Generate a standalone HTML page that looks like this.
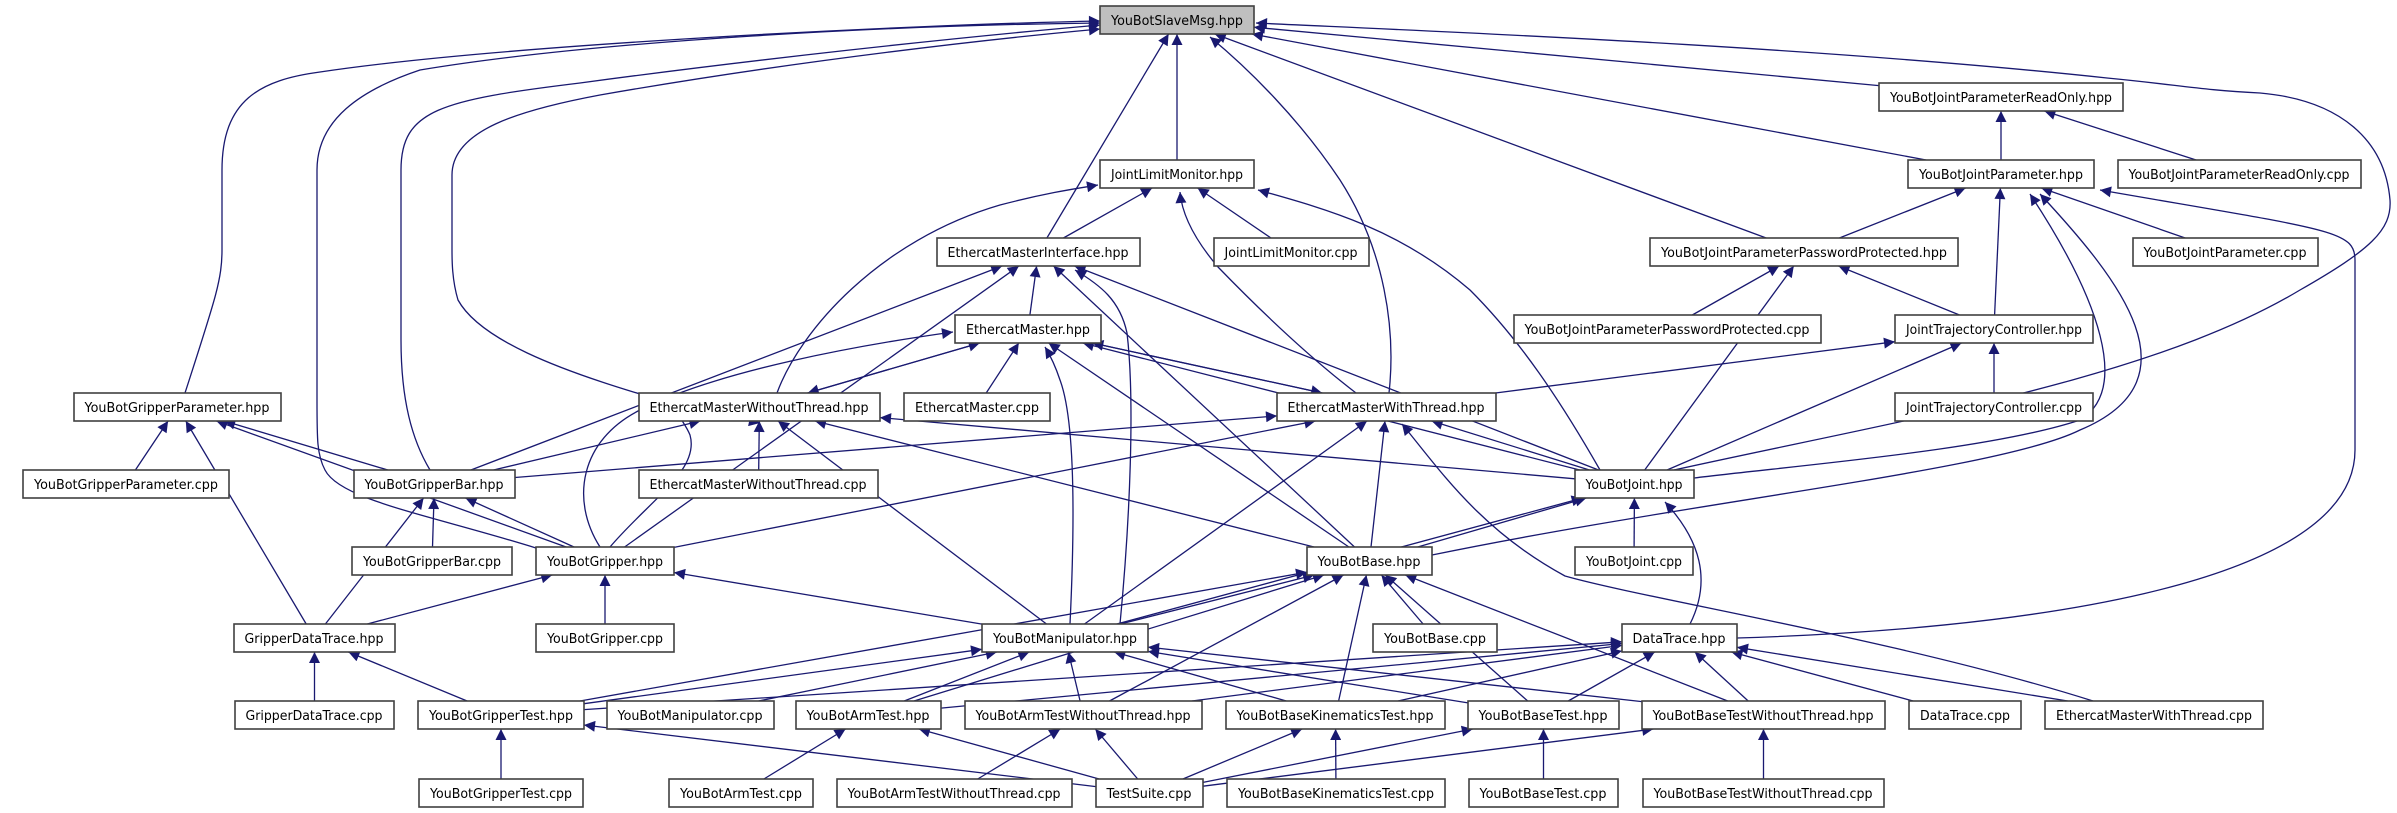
<!DOCTYPE html>
<html><head><meta charset="utf-8"><style>
html,body{margin:0;padding:0;background:#fff;}
svg{display:block;}
text{font-family:"DejaVu Sans","Liberation Sans",sans-serif;font-size:13px;fill:#000;}
rect.n{fill:#fff;stroke:#404040;stroke-width:1.6;}
</style></head><body>
<svg id="g" width="2397" height="813" viewBox="0 0 2397 813" xmlns="http://www.w3.org/2000/svg">
<defs><marker id="a" viewBox="0 0 10 10" refX="10" refY="5" markerWidth="13" markerHeight="11" markerUnits="userSpaceOnUse" orient="auto"><path d="M0,0 L10,5 L0,10 z" fill="#191970"/></marker></defs>
<g id="edges" fill="none" stroke="#191970" stroke-width="1.3"></g>
<g id="nodes">
<rect x="1100" y="6" width="154" height="28" fill="#bfbfbf" stroke="#404040" stroke-width="1.6"/><text x="1177" y="25" text-anchor="middle">YouBotSlaveMsg.hpp</text>
<rect class="n" x="1879" y="83" width="244" height="28"/><text x="2001" y="102" text-anchor="middle">YouBotJointParameterReadOnly.hpp</text>
<rect class="n" x="1100" y="160" width="154" height="28"/><text x="1177" y="179" text-anchor="middle">JointLimitMonitor.hpp</text>
<rect class="n" x="1908" y="160" width="186" height="28"/><text x="2001" y="179" text-anchor="middle">YouBotJointParameter.hpp</text>
<rect class="n" x="2118" y="160" width="243" height="28"/><text x="2239" y="179" text-anchor="middle">YouBotJointParameterReadOnly.cpp</text>
<rect class="n" x="937" y="238" width="203" height="28"/><text x="1038" y="257" text-anchor="middle">EthercatMasterInterface.hpp</text>
<rect class="n" x="1214" y="238" width="155" height="28"/><text x="1291" y="257" text-anchor="middle">JointLimitMonitor.cpp</text>
<rect class="n" x="1650" y="238" width="308" height="28"/><text x="1804" y="257" text-anchor="middle">YouBotJointParameterPasswordProtected.hpp</text>
<rect class="n" x="2133" y="238" width="185" height="28"/><text x="2225" y="257" text-anchor="middle">YouBotJointParameter.cpp</text>
<rect class="n" x="955" y="315" width="146" height="28"/><text x="1028" y="334" text-anchor="middle">EthercatMaster.hpp</text>
<rect class="n" x="1514" y="315" width="307" height="28"/><text x="1667" y="334" text-anchor="middle">YouBotJointParameterPasswordProtected.cpp</text>
<rect class="n" x="1895" y="315" width="198" height="28"/><text x="1994" y="334" text-anchor="middle">JointTrajectoryController.hpp</text>
<rect class="n" x="74" y="393" width="207" height="28"/><text x="177" y="412" text-anchor="middle">YouBotGripperParameter.hpp</text>
<rect class="n" x="639" y="393" width="241" height="28"/><text x="759" y="412" text-anchor="middle">EthercatMasterWithoutThread.hpp</text>
<rect class="n" x="904" y="393" width="146" height="28"/><text x="977" y="412" text-anchor="middle">EthercatMaster.cpp</text>
<rect class="n" x="1277" y="393" width="219" height="28"/><text x="1386" y="412" text-anchor="middle">EthercatMasterWithThread.hpp</text>
<rect class="n" x="1895" y="393" width="198" height="28"/><text x="1994" y="412" text-anchor="middle">JointTrajectoryController.cpp</text>
<rect class="n" x="23" y="470" width="206" height="28"/><text x="126" y="489" text-anchor="middle">YouBotGripperParameter.cpp</text>
<rect class="n" x="354" y="470" width="161" height="28"/><text x="434" y="489" text-anchor="middle">YouBotGripperBar.hpp</text>
<rect class="n" x="639" y="470" width="239" height="28"/><text x="758" y="489" text-anchor="middle">EthercatMasterWithoutThread.cpp</text>
<rect class="n" x="1575" y="470" width="119" height="28"/><text x="1634" y="489" text-anchor="middle">YouBotJoint.hpp</text>
<rect class="n" x="352" y="547" width="160" height="28"/><text x="432" y="566" text-anchor="middle">YouBotGripperBar.cpp</text>
<rect class="n" x="536" y="547" width="138" height="28"/><text x="605" y="566" text-anchor="middle">YouBotGripper.hpp</text>
<rect class="n" x="1307" y="547" width="125" height="28"/><text x="1369" y="566" text-anchor="middle">YouBotBase.hpp</text>
<rect class="n" x="1575" y="547" width="118" height="28"/><text x="1634" y="566" text-anchor="middle">YouBotJoint.cpp</text>
<rect class="n" x="234" y="624" width="161" height="28"/><text x="314" y="643" text-anchor="middle">GripperDataTrace.hpp</text>
<rect class="n" x="536" y="624" width="138" height="28"/><text x="605" y="643" text-anchor="middle">YouBotGripper.cpp</text>
<rect class="n" x="982" y="624" width="166" height="28"/><text x="1065" y="643" text-anchor="middle">YouBotManipulator.hpp</text>
<rect class="n" x="1373" y="624" width="124" height="28"/><text x="1435" y="643" text-anchor="middle">YouBotBase.cpp</text>
<rect class="n" x="1622" y="624" width="115" height="28"/><text x="1679" y="643" text-anchor="middle">DataTrace.hpp</text>
<rect class="n" x="235" y="701" width="159" height="28"/><text x="314" y="720" text-anchor="middle">GripperDataTrace.cpp</text>
<rect class="n" x="418" y="701" width="166" height="28"/><text x="501" y="720" text-anchor="middle">YouBotGripperTest.hpp</text>
<rect class="n" x="607" y="701" width="167" height="28"/><text x="690" y="720" text-anchor="middle">YouBotManipulator.cpp</text>
<rect class="n" x="796" y="701" width="145" height="28"/><text x="868" y="720" text-anchor="middle">YouBotArmTest.hpp</text>
<rect class="n" x="965" y="701" width="237" height="28"/><text x="1083" y="720" text-anchor="middle">YouBotArmTestWithoutThread.hpp</text>
<rect class="n" x="1226" y="701" width="219" height="28"/><text x="1335" y="720" text-anchor="middle">YouBotBaseKinematicsTest.hpp</text>
<rect class="n" x="1468" y="701" width="151" height="28"/><text x="1543" y="720" text-anchor="middle">YouBotBaseTest.hpp</text>
<rect class="n" x="1642" y="701" width="243" height="28"/><text x="1763" y="720" text-anchor="middle">YouBotBaseTestWithoutThread.hpp</text>
<rect class="n" x="1909" y="701" width="112" height="28"/><text x="1965" y="720" text-anchor="middle">DataTrace.cpp</text>
<rect class="n" x="2045" y="701" width="218" height="28"/><text x="2154" y="720" text-anchor="middle">EthercatMasterWithThread.cpp</text>
<rect class="n" x="419" y="779" width="164" height="28"/><text x="501" y="798" text-anchor="middle">YouBotGripperTest.cpp</text>
<rect class="n" x="669" y="779" width="144" height="28"/><text x="741" y="798" text-anchor="middle">YouBotArmTest.cpp</text>
<rect class="n" x="837" y="779" width="235" height="28"/><text x="954" y="798" text-anchor="middle">YouBotArmTestWithoutThread.cpp</text>
<rect class="n" x="1096" y="779" width="107" height="28"/><text x="1149" y="798" text-anchor="middle">TestSuite.cpp</text>
<rect class="n" x="1227" y="779" width="218" height="28"/><text x="1336" y="798" text-anchor="middle">YouBotBaseKinematicsTest.cpp</text>
<rect class="n" x="1469" y="779" width="149" height="28"/><text x="1543" y="798" text-anchor="middle">YouBotBaseTest.cpp</text>
<rect class="n" x="1643" y="779" width="241" height="28"/><text x="1763" y="798" text-anchor="middle">YouBotBaseTestWithoutThread.cpp</text>
</g>
</svg>
<script>
(function(){
var N={};
var rs=document.querySelectorAll('#nodes rect');
var ts=document.querySelectorAll('#nodes text');
for(var i=0;i<rs.length;i++){var r=rs[i];N[ts[i].textContent]={x:+r.getAttribute('x'),y:+r.getAttribute('y'),w:+r.getAttribute('width'),h:+r.getAttribute('height')};
 ts[i].setAttribute('textLength',(+r.getAttribute('width'))-22);ts[i].setAttribute('lengthAdjust','spacingAndGlyphs');}
var G=document.getElementById('edges');
function add(d){var p=document.createElementNS('http://www.w3.org/2000/svg','path');p.setAttribute('d',d);p.setAttribute('marker-end','url(#a)');G.appendChild(p);}
function clip(b,cx,cy,tx,ty){var dx=tx-cx,dy=ty-cy,hw=b.w/2,hh=b.h/2;var s=Math.min(dx?hw/Math.abs(dx):1e9,dy?hh/Math.abs(dy):1e9);return [cx+dx*s,cy+dy*s];}
function E(c,p){var a=N[c],b=N[p];if(!a||!b){return;}
 var ax=a.x+a.w/2,ay=a.y+a.h/2,bx=b.x+b.w/2,by=b.y+b.h/2;
 var s=clip(a,ax,ay,bx,by),e=clip(b,bx,by,ax,ay);
 add('M'+s[0].toFixed(1)+','+s[1].toFixed(1)+' L'+e[0].toFixed(1)+','+e[1].toFixed(1));}
var S='YouBotSlaveMsg.hpp';
// special curves
add('M185,393 C215,300 222,280 222,250 L222,170 C222,100 260,80 320,72 C500,45 900,25 1100,21');
add('M430,470 C412,440 401,400 401,340 L401,170 C401,110 440,100 580,83 C750,60 950,38 1100,25');
add('M536,548 C430,515 340,500 325,470 C317,455 317,440 317,400 L317,170 C317,120 360,90 420,70 C600,40 900,25 1100,23');
add('M640,394 C560,370 480,340 458,300 C452,280 452,260 452,250 L452,175 C452,130 520,110 600,95 C800,60 1000,38 1100,29');
add('M1674,470 C1900,420 2150,380 2300,290 C2370,250 2392,230 2390,200 C2385,140 2340,100 2260,93 C2200,90 2180,85 2107,78 C1800,45 1400,30 1256,23');
add('M1694,478 C1800,465 1990,450 2080,420 C2130,390 2100,300 2030,194');
add('M1432,555 C1700,500 2000,470 2080,430 C2200,380 2120,280 2040,194');
add('M1737,638 C2000,630 2355,590 2355,450 L2355,260 C2355,230 2330,230 2100,190');
add('M1389,393 C1396,330 1385,250 1340,180 C1300,120 1250,70 1210,37');
add('M1356,393 C1300,350 1250,300 1218,267 C1195,240 1182,215 1180,192');
add('M1600,470 C1560,400 1520,340 1470,290 C1400,230 1330,210 1258,190');
add('M777,393 C800,330 880,240 1000,205 C1050,192 1080,188 1098,185');
add('M1690,624 C1712,580 1700,540 1665,502');
add('M2093,701 C1900,640 1650,600 1565,576 C1480,530 1440,470 1402,424');
add('M1120,624 C1130,520 1135,400 1127,333 C1120,300 1100,285 1075,270');
add('M1070,624 C1075,520 1075,420 1060,380 C1055,365 1050,355 1045,347');
add('M600,547 C570,500 580,440 640,410 C720,370 860,345 953,332');
add('M610,547 C650,500 700,470 690,435 C680,410 650,400 760,423');
var L=[
['EthercatMasterInterface.hpp',S],['JointLimitMonitor.hpp',S],
['YouBotJointParameterPasswordProtected.hpp',S],['YouBotJointParameterReadOnly.hpp',S],['YouBotJointParameter.hpp',S],
['YouBotJointParameter.hpp','YouBotJointParameterReadOnly.hpp'],['YouBotJointParameterReadOnly.cpp','YouBotJointParameterReadOnly.hpp'],
['EthercatMasterInterface.hpp','JointLimitMonitor.hpp'],['JointLimitMonitor.cpp','JointLimitMonitor.hpp'],
['YouBotJointParameterPasswordProtected.hpp','YouBotJointParameter.hpp'],['JointTrajectoryController.hpp','YouBotJointParameter.hpp'],['YouBotJointParameter.cpp','YouBotJointParameter.hpp'],
['EthercatMaster.hpp','EthercatMasterInterface.hpp'],['YouBotGripperBar.hpp','EthercatMasterInterface.hpp'],['YouBotGripper.hpp','EthercatMasterInterface.hpp'],['YouBotBase.hpp','EthercatMasterInterface.hpp'],['YouBotJoint.hpp','EthercatMasterInterface.hpp'],
['YouBotJointParameterPasswordProtected.cpp','YouBotJointParameterPasswordProtected.hpp'],['JointTrajectoryController.hpp','YouBotJointParameterPasswordProtected.hpp'],['YouBotJoint.hpp','YouBotJointParameterPasswordProtected.hpp'],
['EthercatMasterWithoutThread.hpp','EthercatMaster.hpp'],['EthercatMaster.cpp','EthercatMaster.hpp'],['EthercatMasterWithThread.hpp','EthercatMaster.hpp'],['YouBotBase.hpp','EthercatMaster.hpp'],['YouBotJoint.hpp','EthercatMaster.hpp'],
['EthercatMaster.hpp','EthercatMasterWithoutThread.hpp'],['EthercatMaster.hpp','EthercatMasterWithThread.hpp'],
['JointTrajectoryController.cpp','JointTrajectoryController.hpp'],['EthercatMasterWithThread.hpp','JointTrajectoryController.hpp'],['YouBotJoint.hpp','JointTrajectoryController.hpp'],
['EthercatMasterWithoutThread.cpp','EthercatMasterWithoutThread.hpp'],['YouBotGripperBar.hpp','EthercatMasterWithoutThread.hpp'],['YouBotManipulator.hpp','EthercatMasterWithoutThread.hpp'],['YouBotBase.hpp','EthercatMasterWithoutThread.hpp'],['YouBotJoint.hpp','EthercatMasterWithoutThread.hpp'],
['YouBotGripperBar.hpp','EthercatMasterWithThread.hpp'],['YouBotGripper.hpp','EthercatMasterWithThread.hpp'],['YouBotJoint.hpp','EthercatMasterWithThread.hpp'],['YouBotManipulator.hpp','EthercatMasterWithThread.hpp'],['YouBotBase.hpp','EthercatMasterWithThread.hpp'],
['YouBotGripperParameter.cpp','YouBotGripperParameter.hpp'],['YouBotGripperBar.hpp','YouBotGripperParameter.hpp'],['YouBotGripper.hpp','YouBotGripperParameter.hpp'],['GripperDataTrace.hpp','YouBotGripperParameter.hpp'],
['YouBotGripperBar.cpp','YouBotGripperBar.hpp'],['YouBotGripper.hpp','YouBotGripperBar.hpp'],['GripperDataTrace.hpp','YouBotGripperBar.hpp'],
['YouBotJoint.cpp','YouBotJoint.hpp'],['YouBotBase.hpp','YouBotJoint.hpp'],['YouBotManipulator.hpp','YouBotJoint.hpp'],
['YouBotGripper.cpp','YouBotGripper.hpp'],['GripperDataTrace.hpp','YouBotGripper.hpp'],['YouBotManipulator.hpp','YouBotGripper.hpp'],
['YouBotBase.cpp','YouBotBase.hpp'],['YouBotManipulator.hpp','YouBotBase.hpp'],['YouBotGripperTest.hpp','YouBotBase.hpp'],['YouBotArmTest.hpp','YouBotBase.hpp'],['YouBotArmTestWithoutThread.hpp','YouBotBase.hpp'],['YouBotBaseKinematicsTest.hpp','YouBotBase.hpp'],['YouBotBaseTest.hpp','YouBotBase.hpp'],['YouBotBaseTestWithoutThread.hpp','YouBotBase.hpp'],
['GripperDataTrace.cpp','GripperDataTrace.hpp'],['YouBotGripperTest.hpp','GripperDataTrace.hpp'],
['YouBotGripperTest.hpp','YouBotManipulator.hpp'],['YouBotManipulator.cpp','YouBotManipulator.hpp'],['YouBotArmTest.hpp','YouBotManipulator.hpp'],['YouBotArmTestWithoutThread.hpp','YouBotManipulator.hpp'],['YouBotBaseKinematicsTest.hpp','YouBotManipulator.hpp'],['YouBotBaseTest.hpp','YouBotManipulator.hpp'],['YouBotBaseTestWithoutThread.hpp','YouBotManipulator.hpp'],
['YouBotGripperTest.hpp','DataTrace.hpp'],['YouBotArmTest.hpp','DataTrace.hpp'],['YouBotArmTestWithoutThread.hpp','DataTrace.hpp'],['YouBotBaseKinematicsTest.hpp','DataTrace.hpp'],['YouBotBaseTest.hpp','DataTrace.hpp'],['YouBotBaseTestWithoutThread.hpp','DataTrace.hpp'],['DataTrace.cpp','DataTrace.hpp'],['EthercatMasterWithThread.cpp','DataTrace.hpp'],
['YouBotGripperTest.cpp','YouBotGripperTest.hpp'],['TestSuite.cpp','YouBotGripperTest.hpp'],
['YouBotArmTest.cpp','YouBotArmTest.hpp'],['TestSuite.cpp','YouBotArmTest.hpp'],
['YouBotArmTestWithoutThread.cpp','YouBotArmTestWithoutThread.hpp'],['TestSuite.cpp','YouBotArmTestWithoutThread.hpp'],
['YouBotBaseKinematicsTest.cpp','YouBotBaseKinematicsTest.hpp'],['TestSuite.cpp','YouBotBaseKinematicsTest.hpp'],
['YouBotBaseTest.cpp','YouBotBaseTest.hpp'],['TestSuite.cpp','YouBotBaseTest.hpp'],
['YouBotBaseTestWithoutThread.cpp','YouBotBaseTestWithoutThread.hpp'],['TestSuite.cpp','YouBotBaseTestWithoutThread.hpp']
];
for(var k=0;k<L.length;k++)E(L[k][0],L[k][1]);
})();
</script>
</body></html>
